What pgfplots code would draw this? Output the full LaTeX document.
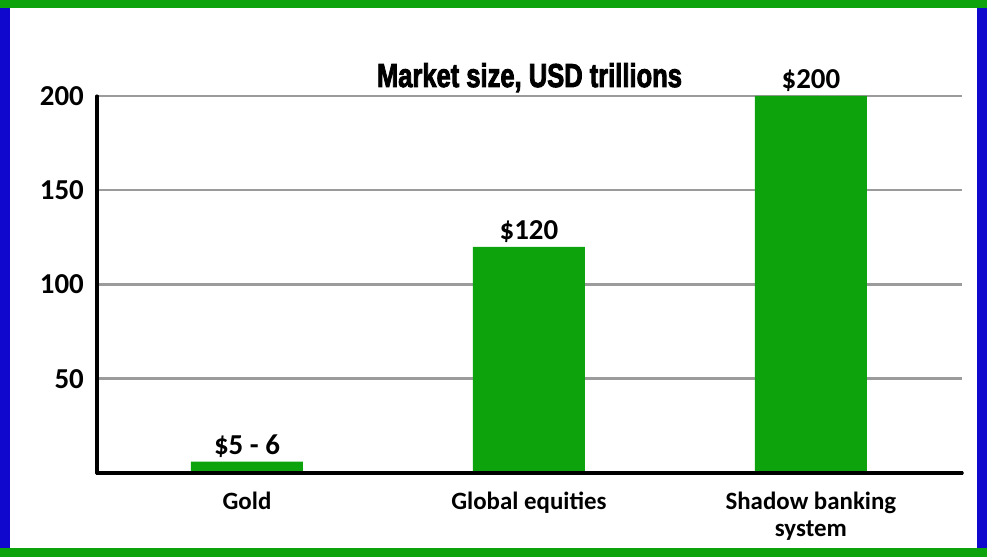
\documentclass[border=0pt]{standalone}
\usepackage{pgfplots}
\pgfplotsset{compat=1.18}
\usepackage{graphicx}
\usepackage{fontspec}
\setmainfont{Carlito}
\newfontfamily\titlefont[BoldFeatures={FakeBold=3}]{Liberation Sans}
\definecolor{barGreen}{RGB}{12,163,12}
\definecolor{frameBlue}{RGB}{16,8,205}
\definecolor{gridGray}{RGB}{155,155,155}

\begin{document}
\begin{tikzpicture}
% frame
\fill[frameBlue] (0,0) rectangle (10bp,557bp);
\fill[frameBlue] (977bp,0) rectangle (987bp,557bp);
\fill[barGreen] (0,0) rectangle (987bp,9bp);
\fill[barGreen] (0,549bp) rectangle (987bp,557bp);
\useasboundingbox (0,0) rectangle (987bp,557bp);
\begin{axis}[
at={(97bp,84bp)}, anchor=south west,
scale only axis, width=865bp, height=377bp,
clip=false,
ybar, bar width=112bp,
xmin=-0.532, xmax=2.536,
ymin=0, ymax=200,
xtick={0,1,2},
xticklabels={Gold, Global equities, {Shadow banking\\system}},
ytick={50,100,150,200},
tick style={draw=none},
axis x line*=bottom, axis y line*=left,
axis line style={line width=3bp, line cap=round},
ymajorgrids=true,
every axis grid/.style={draw=gridGray, line width=2.5bp},
every major grid/.style={draw=gridGray, line width=2.5bp},
/pgf/number format/assume math mode=true,
yticklabel style={font=\bfseries\fontsize{29}{29}\selectfont, inner sep=0pt, anchor=east, xshift=-13bp},
xticklabel style={font=\bfseries\fontsize{25}{27}\selectfont, inner sep=0pt, anchor=north, yshift=-15bp, align=center},
nodes near coords,
point meta=explicit symbolic,
every node near coord/.append style={font=\bfseries\fontsize{29}{29}\selectfont, inner sep=0pt, anchor=base, yshift=7bp},
]
\addplot[fill=barGreen, draw=none] coordinates {(0,6) [\$5 - 6] (1,120) [\$120] (2,200) [\$200]};
\draw[line width=3bp, line cap=round] (rel axis cs:0,0) -- (rel axis cs:1,0);
\node[anchor=base, yshift=9bp, inner sep=0pt] at (rel axis cs:0.5,1)
  {\resizebox{305bp}{24bp}{\titlefont\bfseries Market size, USD trillions}};
\end{axis}
\end{tikzpicture}
\end{document}
